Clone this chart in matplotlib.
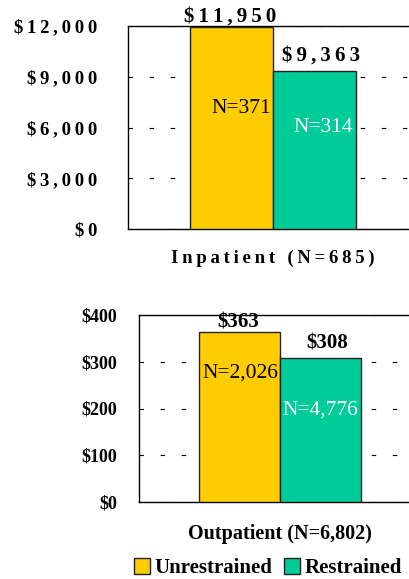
import matplotlib
matplotlib.use("Agg")
import matplotlib.pyplot as plt
from matplotlib.patches import Patch

plt.rcParams["font.family"] = ["Liberation Serif", "DejaVu Serif"]

groups = ["Unrestrained", "Restrained"]
colors = ["#FFCC00", "#00CC99"]

inpatient_cost = [11950, 9363]
inpatient_n = ["N=371", "N=314"]
inpatient_title = "Inpatient (N=685)"
inpatient_ticks = [0, 3000, 6000, 9000, 12000]

outpatient_cost = [363, 308]
outpatient_n = ["N=2,026", "N=4,776"]
outpatient_title = "Outpatient (N=6,802)"
outpatient_ticks = [0, 100, 200, 300, 400]

# where the N= labels sit, as a share of the y range
inpatient_n_pos = [0.595, 0.50]
outpatient_n_pos = [0.69, 0.49]


def spaced(s, sep="\u2009"):
    return sep.join(s)


def money(v):
    return f"${v:,}"


def draw_panel(ax, costs, nlabels, npos, ticks, title, wide):
    xs = [-0.5, 0.5]
    ax.bar(xs, costs, width=1.0, color=colors, edgecolor="#222222", linewidth=1.0, zorder=3)
    ax.set_xlim(-1.75, 1.75)
    ax.set_ylim(ticks[0], ticks[-1])
    ax.set_yticks(ticks)
    if wide:
        ax.set_yticklabels([spaced(money(t)) for t in ticks], fontsize=13.5, fontweight="bold")
        ax.tick_params(axis="y", length=0, pad=22)
    else:
        ax.set_yticklabels([money(t) for t in ticks], fontsize=13, fontweight="bold")
        ax.tick_params(axis="y", length=0, pad=16)
    ax.set_xticks([])
    ax.grid(axis="y", color="black", linewidth=0.8, linestyle=(0, (4, 15)), zorder=0)
    for sp in ax.spines.values():
        sp.set_linewidth(1.0)
    ymax = ticks[-1]
    for i, (x, c) in enumerate(zip(xs, costs)):
        txt = spaced(money(c)) if wide else money(c)
        dx = 5 if i == 1 else -1
        dy = 0 if i == 0 else 3.5
        ax.annotate(txt, (x, c), xytext=(dx, dy), textcoords="offset points",
                    ha="center", va="bottom", fontsize=15,
                    fontweight="bold", zorder=4)
    ax.text(-0.02, npos[0] * ymax, nlabels[0], ha="right", va="center",
            fontsize=15.5, color="black", zorder=4)
    ax.text(0.97, npos[1] * ymax, nlabels[1], ha="right", va="center",
            fontsize=15.5, color="white", zorder=4)
    if wide:
        ax.set_xlabel(spaced(title), fontsize=13.5, fontweight="bold", labelpad=15)
    else:
        ax.set_xlabel(title, fontsize=14.5, fontweight="bold", labelpad=16)


fig = plt.figure(figsize=(4.09, 5.79), dpi=100)

ax1 = fig.add_axes([128 / 409, (579 - 229) / 579, 290 / 409, 203 / 579])
draw_panel(ax1, inpatient_cost, inpatient_n, inpatient_n_pos, inpatient_ticks, inpatient_title, True)

ax2 = fig.add_axes([139 / 409, (579 - 502) / 579, 282 / 409, 187 / 579])
draw_panel(ax2, outpatient_cost, outpatient_n, outpatient_n_pos, outpatient_ticks, outpatient_title, False)

handles = [Patch(facecolor=c, edgecolor="#222222", linewidth=1.0) for c in colors]
fig.legend(handles, groups, loc="lower center", bbox_to_anchor=(0.655, -0.031), ncol=2,
           frameon=False, handlelength=0.75, handleheight=0.75, handletextpad=0.2,
           columnspacing=0.6, prop={"weight": "bold", "size": 15})

fig.savefig("out.png", dpi=100)
